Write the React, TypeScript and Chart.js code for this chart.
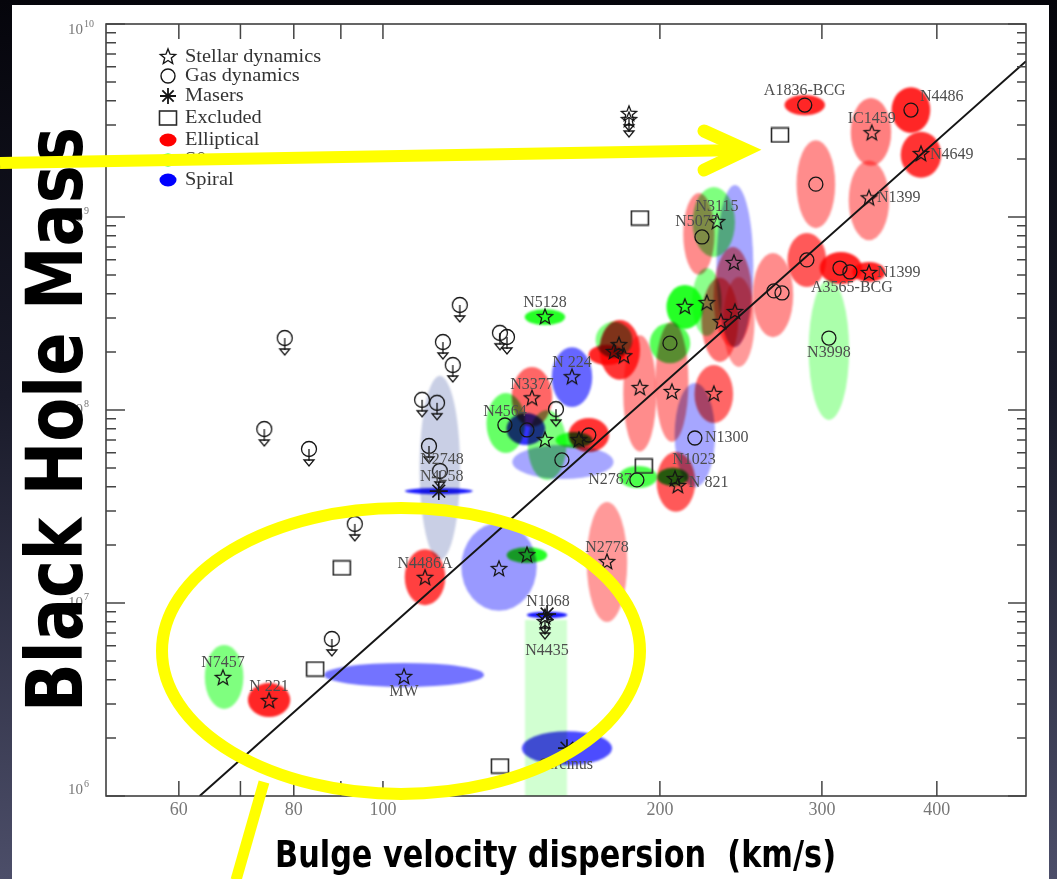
import React, { useEffect, useRef } from 'react';
import { Chart, registerables } from 'chart.js';

Chart.register(...registerables);

// ---------------- DATA (sigma in km/s, black-hole mass in solar masses) ----------------
const fitSigma = [63.2, 500];
const fitMass = [1.0e6, 6.41e9];

const stellarSigma = [339.9, 384.4, 337.5, 337.5, 230.7, 240.7, 212.9, 224.9, 241.3, 233.0, 180.5, 178.3, 182.8, 190.2, 206.1, 228.9, 207.7, 209.2, 150.0, 160.5, 145.2, 150.0, 163.3, 111.1, 133.7, 143.4, 175.2, 105.4, 75.2, 67.0];
const stellarMass = [2.72e9, 2.12e9, 1.25e9, 5.13e8, 9.42e8, 5.78e8, 3.42e8, 3.58e8, 3.22e8, 2.86e8, 2.17e8, 2.0e8, 1.9e8, 1.3e8, 1.24e8, 1.21e8, 4.39e7, 4.04e7, 3.03e8, 1.48e8, 1.15e8, 6.99e7, 6.99e7, 1.35e7, 1.5e7, 1.77e7, 1.63e7, 4.14e6, 3.11e6, 4.09e6];

const gasSigma = [287.4, 374.9, 295.5, 288.9, 313.9, 321.8, 305.3, 266.1, 271.5, 222.2, 205.1, 218.3, 188.8, 135.7, 143.4, 167.4, 156.5];
const gasMass = [3.8e9, 3.58e9, 1.48e9, 5.99e8, 5.44e8, 5.19e8, 2.36e8, 4.14e8, 4.04e8, 7.88e8, 2.22e8, 7.16e7, 4.34e7, 8.36e7, 7.88e7, 7.42e7, 5.51e7];

const maserSigma = [115.0, 150.8, 158.5];
const maserMass = [3.8e7, 8.77e6, 1.77e6];

const excludedSigma = [270.1, 190.2, 90.2, 84.4, 134.0, 192.1];
const excludedMass = [2.66e9, 9.88e8, 1.52e7, 4.55e6, 1.43e6, 5.13e7];

const gasLimitSigma = [78.2, 74.3, 83.1, 121.2, 116.2, 119.1, 134.0, 136.4, 110.3, 114.5, 112.2, 115.3, 93.2, 88.0, 154.2];
const gasLimitMass = [2.36e8, 7.97e7, 6.28e7, 3.5e8, 2.25e8, 1.71e8, 2.51e8, 2.39e8, 1.13e8, 1.09e8, 6.51e7, 4.83e7, 2.57e7, 6.51e6, 1.01e8];

const stellarLimitSigma = [185.1, 185.1, 150.0, 150.0];
const stellarLimitMass = [3.42e9, 3.18e9, 8.46e6, 7.97e6];

// error ellipses: centre, half-size in dex, host type (E / S0 / S / L), shade
const ellSigma = [287.4, 374.9, 339.2, 384.4, 295.5, 337.5, 288.9, 314.6, 337.5, 305.3, 265.4, 220.5, 228.9, 241.3, 240.1, 212.9, 224.9, 232.4, 243.7, 205.1, 180.9, 175.2, 178.3, 190.2, 206.1, 228.9, 218.3, 208.2, 189.3, 206.6, 150.0, 160.5, 145.2, 136.0, 143.0, 156.9, 150.8, 167.4, 161.3, 115.3, 115.0, 111.1, 133.7, 143.4, 175.2, 150.8, 158.5, 105.4, 75.2, 67.2];
const ellMass = [3.8e9, 3.58e9, 2.76e9, 2.1e9, 1.48e9, 1.22e9, 5.99e8, 5.44e8, 5.19e8, 2.05e8, 3.94e8, 8.17e8, 9.42e8, 5.57e8, 3.85e8, 3.42e8, 3.63e8, 2.93e8, 2.86e8, 2.22e8, 2.05e8, 1.93e8, 2.31e8, 1.22e8, 1.4e8, 1.21e8, 7.42e7, 4.24e7, 4.5e7, 4.5e7, 3.03e8, 1.48e8, 1.17e8, 8.56e7, 7.97e7, 5.38e7, 6.59e7, 7.42e7, 6.99e7, 5.01e7, 3.8e7, 1.36e7, 1.54e7, 1.77e7, 1.63e7, 8.67e6, 1.77e6, 4.24e6, 3.14e6, 4.14e6];
const ellSigmaDex = [0.022, 0.021, 0.022, 0.022, 0.021, 0.022, 0.021, 0.023, 0.018, 0.022, 0.022, 0.017, 0.023, 0.02, 0.021, 0.02, 0.016, 0.02, 0.017, 0.022, 0.022, 0.02, 0.02, 0.018, 0.018, 0.021, 0.022, 0.021, 0.021, 0.017, 0.022, 0.022, 0.022, 0.021, 0.021, 0.055, 0.021, 0.022, 0.02, 0.022, 0.037, 0.022, 0.041, 0.022, 0.022, 0.022, 0.049, 0.087, 0.023, 0.021];
const ellMassDex = [0.052, 0.119, 0.176, 0.119, 0.228, 0.207, 0.14, 0.083, 0.052, 0.363, 0.218, 0.212, 0.181, 0.42, 0.259, 0.114, 0.176, 0.218, 0.233, 0.104, 0.155, 0.052, 0.093, 0.301, 0.311, 0.15, 0.269, 0.155, 0.057, 0.047, 0.041, 0.155, 0.155, 0.155, 0.083, 0.088, 0.181, 0.088, 0.041, 0.477, 0.016, 0.145, 0.228, 0.041, 0.311, 0.016, 0.088, 0.062, 0.088, 0.166];
const ellType = ['E', 'E', 'E', 'E', 'E', 'E', 'E', 'E', 'E', 'S0', 'E', 'E', 'S0', 'S', 'E', 'S0', 'S0', 'E', 'E', 'S0', 'E', 'E', 'S0', 'E', 'E', 'E', 'S', 'E', 'S0', 'S0', 'S0', 'S', 'E', 'S0', 'S', 'S', 'S0', 'E', 'S0', 'L', 'S', 'E', 'S', 'S0', 'E', 'S', 'S', 'S', 'E', 'S0'];
const ellShade = [0.85, 0.85, 0.5, 0.8, 0.45, 0.45, 0.65, 0.85, 0.85, 0.33, 0.45, 0.45, 0.5, 0.35, 0.5, 0.85, 0.45, 0.55, 0.4, 0.65, 0.8, 0.85, 0.5, 0.45, 0.45, 0.6, 0.35, 0.65, 0.7, 0.85, 0.85, 0.6, 0.6, 0.6, 0.8, 0.35, 0.5, 0.8, 0.8, 0.4, 0.9, 0.75, 0.4, 0.85, 0.4, 0.9, 0.7, 0.55, 0.85, 0.5];

// N4435 upper-limit band (sigma range, mass upper bound)
const bandSigmaLo = [142.7];
const bandSigmaHi = [158.5];
const bandMassHi = [8.17e6];

// galaxy name labels (anchored on their galaxy)
const labelText = ['A1836-BCG', 'N4486', 'IC1459', 'N4649', 'N1399', 'N1399', 'A3565-BCG', 'N3998', 'N3115', 'N5077', 'N5128', 'N 224', 'N3377', 'N4564', 'N1300', 'N1023', 'N 821', 'N2787', 'N2748', 'N4258', 'N4486A', 'N2778', 'N1068', 'N4435', 'Circinus', 'MW', 'N 221', 'N7457'];
const labelSigma = [287.4, 374.9, 339.9, 384.4, 337.5, 337.5, 321.8, 305.3, 230.7, 222.2, 150.0, 160.5, 145.2, 135.7, 218.3, 207.7, 209.2, 188.8, 112.2, 115.0, 111.1, 175.2, 150.8, 150.0, 158.5, 105.4, 75.2, 67.0];
const labelMass = [3.8e9, 3.58e9, 2.72e9, 2.12e9, 1.25e9, 5.13e8, 5.19e8, 2.36e8, 9.42e8, 7.88e8, 3.03e8, 1.48e8, 1.15e8, 8.36e7, 7.16e7, 4.39e7, 4.04e7, 4.34e7, 6.51e7, 3.8e7, 1.35e7, 1.63e7, 8.77e6, 7.97e6, 1.77e6, 4.14e6, 3.11e6, 4.09e6];

const xTickValues = [60, 70, 80, 90, 100, 200, 300, 400];
const xTickLabels = ['60', '', '80', '', '100', '200', '300', '400'];
const yMajorValues = [1e6, 1e7, 1e8, 1e9, 1e10];
const yMajorExp = ['6', '7', '8', '9', '10'];

const legendLabels = ['Stellar dynamics', 'Gas dynamics', 'Masers', 'Excluded', 'Elliptical', 'S0', 'Spiral'];

const yTitle = 'Black Hole Mass';
const xTitle = 'Bulge velocity dispersion  (km/s)';

// ---------------- STYLE ----------------
const W = 1057;
const H = 879;
const labelOffset: [number, number, string][] = [
  [0, -14, 'c'], [9, -13, 'l'], [0, -14, 'c'], [9, 1, 'l'], [8, 0, 'l'], [8, 0, 'l'], [2, 16, 'c'], [0, 15, 'c'],
  [0, -15, 'c'], [-5, -15, 'c'], [0, -14, 'c'], [0, -14, 'c'], [0, -13, 'c'], [0, -13, 'c'], [10, 0, 'l'], [19, -19, 'c'],
  [11, -3, 'l'], [-5, 0, 'r'], [13, 14, 'c'], [3, -14, 'c'], [0, -14, 'c'], [0, -14, 'c'], [1, -12, 'c'], [2, 29, 'c'],
  [-1, 17, 'c'], [0, 15, 'c'], [0, -14, 'c'], [0, -15, 'c'],
];
const TYPE_COLOR: Record<string, number[]> = { E: [255, 0, 0], S0: [0, 255, 0], S: [0, 0, 255], L: [120, 135, 190] };
const INK = '#151515';

function rgba(c: number[], a: number) {
  return `rgba(${c[0]},${c[1]},${c[2]},${a})`;
}

function mk(w: number, h: number) {
  const c = document.createElement('canvas');
  c.width = w;
  c.height = h;
  return c;
}

function starPath(g: CanvasRenderingContext2D, cx: number, cy: number, ro: number, ri: number) {
  g.beginPath();
  for (let k = 0; k < 10; k++) {
    const r = k % 2 ? ri : ro;
    const a = -Math.PI / 2 + (k * Math.PI) / 5;
    const px = cx + r * Math.cos(a);
    const py = cy + r * Math.sin(a);
    if (k) g.lineTo(px, py);
    else g.moveTo(px, py);
  }
  g.closePath();
}

function downArrow(g: CanvasRenderingContext2D, cx: number, y0: number, y1: number) {
  g.beginPath();
  g.moveTo(cx, y0);
  g.lineTo(cx, y1 - 5);
  g.stroke();
  g.beginPath();
  g.moveTo(cx - 5, y1 - 6);
  g.lineTo(cx + 5, y1 - 6);
  g.lineTo(cx, y1);
  g.closePath();
  g.stroke();
}

function makeStar(arrow: boolean) {
  const c = mk(20, arrow ? 40 : 20);
  const g = c.getContext('2d')!;
  const cy = arrow ? 20 : 10;
  g.strokeStyle = INK;
  g.lineWidth = 1.3;
  if (arrow) downArrow(g, 10, cy + 3, cy + 17);
  starPath(g, 10, cy, 8, 3.5);
  g.stroke();
  return c;
}

function makeCircleArrow() {
  const c = mk(20, 40);
  const g = c.getContext('2d')!;
  g.strokeStyle = INK;
  g.lineWidth = 1.3;
  g.beginPath();
  g.arc(10, 20, 7.5, 0, Math.PI * 2);
  g.stroke();
  downArrow(g, 10, 20, 37);
  return c;
}

function makeSquare() {
  const c = mk(20, 17);
  const g = c.getContext('2d')!;
  g.strokeStyle = '#2a2a2a';
  g.lineWidth = 1.6;
  g.strokeRect(1.5, 1.5, 17, 14);
  return c;
}

function drawAsterisk(g: CanvasRenderingContext2D, cx: number, cy: number, r: number) {
  g.beginPath();
  for (let k = 0; k < 4; k++) {
    const a = (k * Math.PI) / 4;
    g.moveTo(cx - r * Math.cos(a), cy - r * Math.sin(a));
    g.lineTo(cx + r * Math.cos(a), cy + r * Math.sin(a));
  }
  g.stroke();
}

function text(g: CanvasRenderingContext2D, s: string, x: number, y: number, font: string, color: string, align: string, sx = 1) {
  g.save();
  g.font = font;
  g.fillStyle = color;
  g.textBaseline = 'middle';
  g.textAlign = 'left';
  const w = g.measureText(s).width * sx;
  const left = align === 'c' ? x - w / 2 : align === 'r' ? x - w : x;
  g.translate(left, y);
  g.scale(sx, 1);
  g.fillText(s, 0, 0);
  g.restore();
}

const slidePlugin = {
  id: 'slide',
  beforeDraw(chart: any) {
    const g: CanvasRenderingContext2D = chart.ctx;
    g.save();
    const grad = g.createLinearGradient(0, 0, 0, H);
    grad.addColorStop(0, '#05050b');
    grad.addColorStop(0.45, '#191a29');
    grad.addColorStop(1, '#4c4e69');
    g.fillStyle = grad;
    g.fillRect(0, 0, W, H);
    g.fillStyle = '#ffffff';
    g.fillRect(12, 5, 1037, H - 5);
    g.restore();
  },
};

const ellipsePlugin = {
  id: 'errEllipses',
  beforeDatasetsDraw(chart: any) {
    const g: CanvasRenderingContext2D = chart.ctx;
    const { x, y } = chart.scales;
    const a = chart.chartArea;
    g.save();
    g.beginPath();
    g.rect(a.left, a.top, a.right - a.left, a.bottom - a.top);
    g.clip();
    g.globalCompositeOperation = 'multiply';
    g.filter = 'blur(1.3px)';
    for (let i = 0; i < bandSigmaLo.length; i++) {
      const x0 = x.getPixelForValue(bandSigmaLo[i]);
      const x1 = x.getPixelForValue(bandSigmaHi[i]);
      const y0 = y.getPixelForValue(bandMassHi[i]);
      g.fillStyle = rgba(TYPE_COLOR.S0, 0.18);
      g.fillRect(x0, y0, x1 - x0, a.bottom - y0 + 4);
    }
    for (let i = 0; i < ellSigma.length; i++) {
      const cx = x.getPixelForValue(ellSigma[i]);
      const cy = y.getPixelForValue(ellMass[i]);
      const rx = x.getPixelForValue(ellSigma[i] * Math.pow(10, ellSigmaDex[i])) - cx;
      const ry = cy - y.getPixelForValue(ellMass[i] * Math.pow(10, ellMassDex[i]));
      g.fillStyle = rgba(TYPE_COLOR[ellType[i]], ellShade[i]);
      g.beginPath();
      g.ellipse(cx, cy, Math.max(rx, 1), Math.max(ry, 1), 0, 0, Math.PI * 2);
      g.fill();
    }
    g.restore();
  },
};

const overlayPlugin = {
  id: 'overlay',
  afterDatasetsDraw(chart: any) {
    const g: CanvasRenderingContext2D = chart.ctx;
    const { x, y } = chart.scales;
    const a = chart.chartArea;
    // galaxy labels
    for (let i = 0; i < labelText.length; i++) {
      const [dx, dy, al] = labelOffset[i];
      text(g, labelText[i], x.getPixelForValue(labelSigma[i]) + dx, y.getPixelForValue(labelMass[i]) + dy,
        '16px "Liberation Serif"', '#4d4d4d', al);
    }
    // frame
    g.save();
    g.strokeStyle = '#333';
    g.lineWidth = 1.5;
    g.strokeRect(a.left, a.top, a.right - a.left, a.bottom - a.top);
    g.strokeStyle = '#444';
    g.beginPath();
    xTickValues.forEach((v) => {
      const px = x.getPixelForValue(v);
      g.moveTo(px, a.bottom);
      g.lineTo(px, a.bottom - 15);
      g.moveTo(px, a.top);
      g.lineTo(px, a.top + 15);
    });
    yMajorValues.forEach((v, i) => {
      const py = y.getPixelForValue(v);
      g.moveTo(a.left, py);
      g.lineTo(a.left + 19, py);
      g.moveTo(a.right, py);
      g.lineTo(a.right - 18, py);
      if (i < yMajorValues.length - 1) {
        for (let k = 2; k <= 9; k++) {
          const pm = y.getPixelForValue(v * k);
          g.moveTo(a.left, pm);
          g.lineTo(a.left + 10, pm);
          g.moveTo(a.right, pm);
          g.lineTo(a.right - 9, pm);
        }
      }
    });
    g.stroke();
    g.restore();
    // tick labels
    xTickValues.forEach((v, i) => {
      if (xTickLabels[i]) text(g, xTickLabels[i], x.getPixelForValue(v), a.bottom + 14, '18px "Liberation Serif"', '#777', 'c');
    });
    yMajorValues.forEach((v, i) => {
      let py = y.getPixelForValue(v);
      py = Math.min(Math.max(py, a.top + 6), a.bottom - 6);
      text(g, '10', 83, py, '15px "Liberation Serif"', '#777', 'r');
      text(g, yMajorExp[i], 84, py - 6, '10px "Liberation Serif"', '#777', 'l');
    });
    // legend
    const ly = [57, 76, 96, 118, 140, 160, 180];
    const lx = 168;
    g.save();
    g.strokeStyle = INK;
    g.lineWidth = 1.4;
    starPath(g, lx, ly[0], 8, 3.5);
    g.stroke();
    g.beginPath();
    g.arc(lx, ly[1], 7, 0, Math.PI * 2);
    g.stroke();
    g.lineWidth = 1.8;
    drawAsterisk(g, lx, ly[2], 8);
    g.lineWidth = 1.6;
    g.strokeStyle = '#2a2a2a';
    g.strokeRect(lx - 8.5, ly[3] - 7, 17, 14);
    ['E', 'S0', 'S'].forEach((t, k) => {
      g.fillStyle = rgba(TYPE_COLOR[t], 1);
      g.beginPath();
      g.ellipse(lx, ly[4 + k], 8.5, 6.5, 0, 0, Math.PI * 2);
      g.fill();
    });
    g.restore();
    legendLabels.forEach((s, i) => text(g, s, 185, ly[i], '19px "Liberation Serif"', '#333', 'l', 1.07));
  },
  afterDraw(chart: any) {
    const g: CanvasRenderingContext2D = chart.ctx;
    g.save();
    // y title (slide text)
    g.save();
    g.translate(82, 712);
    g.rotate(-Math.PI / 2);
    g.font = 'bold 78px "DejaVu Sans"';
    g.fillStyle = '#000';
    g.textBaseline = 'alphabetic';
    const wy = g.measureText(yTitle).width;
    g.scale(585 / wy, 1);
    g.fillText(yTitle, 0, 0);
    g.restore();
    // x title
    g.save();
    g.font = 'bold 38px "DejaVu Sans"';
    g.fillStyle = '#000';
    g.textBaseline = 'alphabetic';
    const wx = g.measureText(xTitle).width;
    g.translate(275, 867);
    g.scale(561 / wx, 1);
    g.fillText(xTitle, 0, 0);
    g.restore();
    // yellow annotations
    g.strokeStyle = '#ffff00';
    g.lineCap = 'butt';
    g.lineWidth = 12;
    g.beginPath();
    g.moveTo(0, 163);
    g.lineTo(742, 150);
    g.stroke();
    g.lineWidth = 13;
    g.lineCap = 'round';
    g.lineJoin = 'miter';
    g.beginPath();
    g.moveTo(704, 131);
    g.lineTo(746, 150);
    g.lineTo(704, 170);
    g.stroke();
    g.lineWidth = 12;
    g.beginPath();
    g.ellipse(401, 651, 239, 143, 0, 0, Math.PI * 2);
    g.stroke();
    g.lineCap = 'butt';
    g.lineWidth = 11;
    g.beginPath();
    g.moveTo(264, 782);
    g.lineTo(236, 880);
    g.stroke();
    g.restore();
  },
};

function pts(xs: number[], ys: number[]) {
  return xs.map((v, i) => ({ x: v, y: ys[i] }));
}

export default function App() {
  const ref = useRef<HTMLCanvasElement>(null);
  useEffect(() => {
    const canvas = ref.current!;
    const starImg = makeStar(false);
    const starArrowImg = makeStar(true);
    const circleArrowImg = makeCircleArrow();
    const squareImg = makeSquare();
    const chart = new Chart(canvas, {
      type: 'scatter',
      data: {
        datasets: [
          {
            label: 'fit', data: pts(fitSigma, fitMass), showLine: true, borderColor: INK, borderWidth: 2,
            pointRadius: 0, order: 10,
          } as any,
          { label: 'Excluded', data: pts(excludedSigma, excludedMass), pointStyle: squareImg as any, pointRadius: 8 },
          { label: 'Gas limits', data: pts(gasLimitSigma, gasLimitMass), pointStyle: circleArrowImg as any, pointRadius: 8 },
          { label: 'Stellar limits', data: pts(stellarLimitSigma, stellarLimitMass), pointStyle: starArrowImg as any, pointRadius: 8 },
          {
            label: 'Gas dynamics', data: pts(gasSigma, gasMass), pointStyle: 'circle', pointRadius: 7,
            borderColor: INK, borderWidth: 1.3, backgroundColor: 'rgba(0,0,0,0)',
          },
          { label: 'Stellar dynamics', data: pts(stellarSigma, stellarMass), pointStyle: starImg as any, pointRadius: 8 },
          {
            label: 'Masers', data: pts(maserSigma, maserMass), pointStyle: 'star', pointRadius: 9,
            borderColor: INK, borderWidth: 1.6, backgroundColor: 'rgba(0,0,0,0)',
          },
        ],
      },
      options: {
        responsive: false,
        animation: false,
        devicePixelRatio: 1,
        events: [],
        layout: { padding: { left: 106, top: 24, right: 31, bottom: 83 } },
        scales: {
          x: { type: 'logarithmic', min: 50, max: 500, display: false },
          y: { type: 'logarithmic', min: 1e6, max: 1e10, display: false },
        },
        plugins: { legend: { display: false }, tooltip: { enabled: false } },
      },
      plugins: [slidePlugin, ellipsePlugin, overlayPlugin],
    });
    return () => chart.destroy();
  }, []);
  return (
    <div style={{ position: 'absolute', left: 0, top: 0, width: W, height: H }}>
      <canvas ref={ref} width={W} height={H} style={{ display: 'block', width: W, height: H }} />
    </div>
  );
}
